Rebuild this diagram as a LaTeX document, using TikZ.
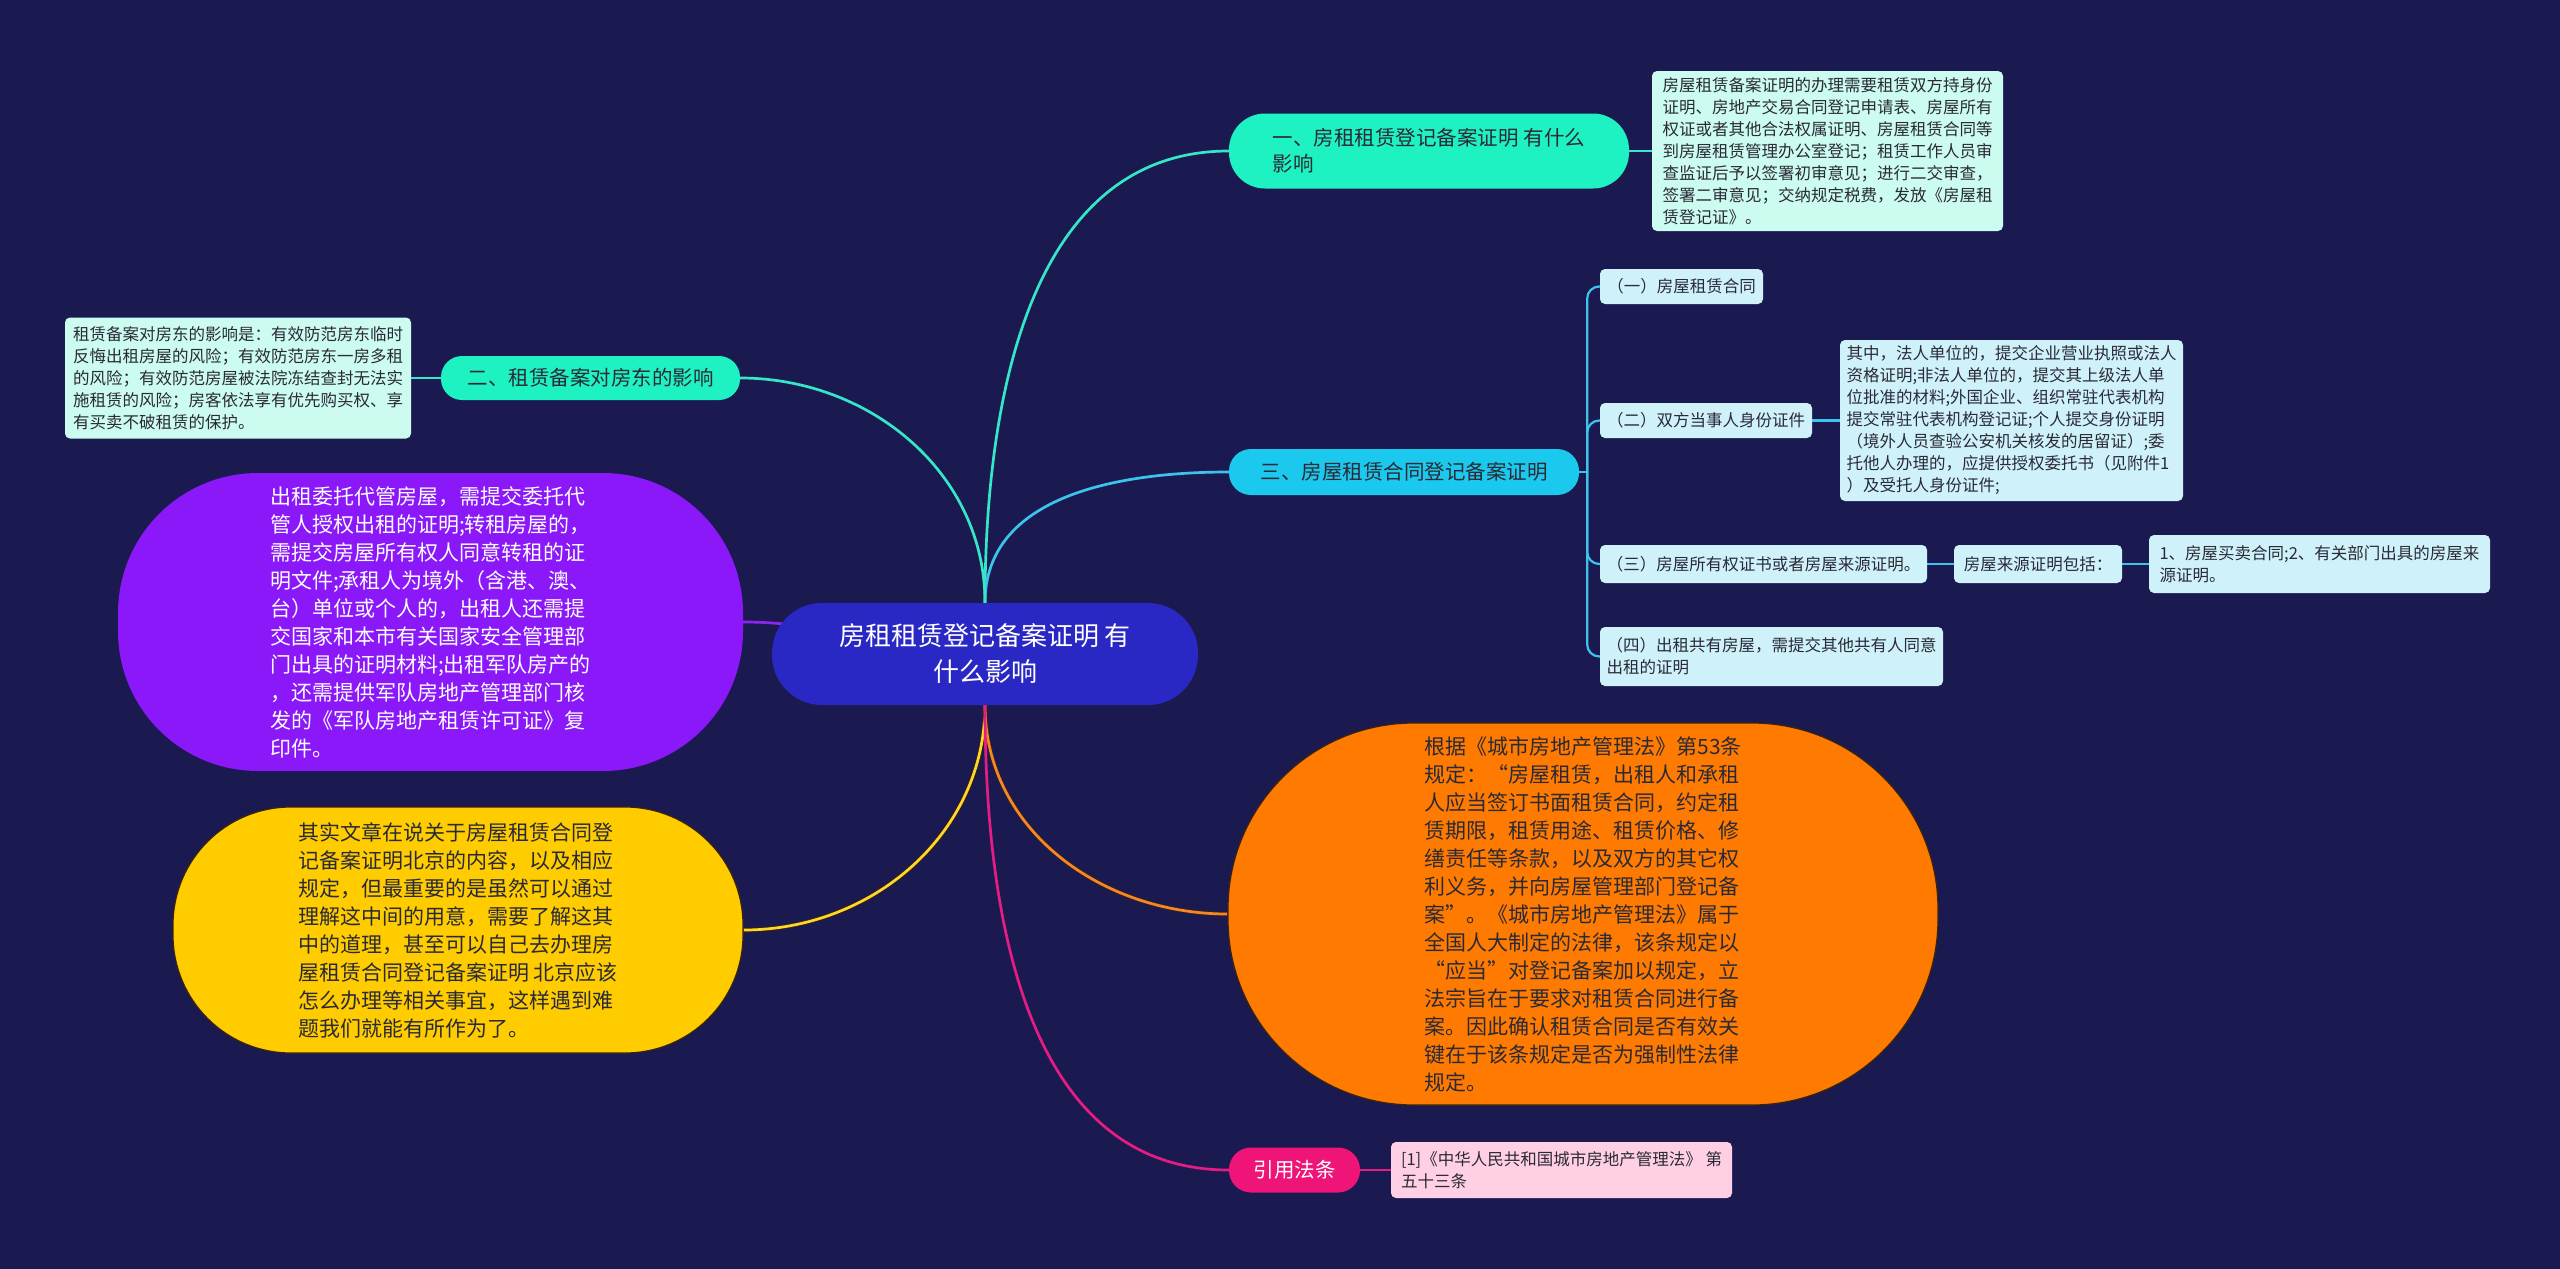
\documentclass[tikz,border=0pt]{standalone}
\usepackage{fontspec}
\setmainfont{Noto Sans CJK SC}
\definecolor{bgnavy}{HTML}{1B1A50}
\definecolor{rootblue}{HTML}{2A28C4}
\definecolor{mintnode}{HTML}{1EF2C2}
\definecolor{skynode}{HTML}{1CC9EE}
\definecolor{violetbub}{HTML}{8A18F8}
\definecolor{goldbub}{HTML}{FFCC00}
\definecolor{orangebub}{HTML}{FF7A00}
\definecolor{rosenode}{HTML}{EE1478}
\definecolor{mintpale}{HTML}{CCFBF0}
\definecolor{skypale}{HTML}{CFF2FA}
\definecolor{rosepale}{HTML}{FFD0E4}
\definecolor{inkdark}{HTML}{2A2A36}
\definecolor{edgedark}{HTML}{3A2410}
\definecolor{mintline}{HTML}{35E6C8}
\definecolor{skyline}{HTML}{3CC4EE}
\definecolor{violetline}{HTML}{9024EE}
\definecolor{goldline}{HTML}{FFD62A}
\definecolor{orangeline}{HTML}{F5862A}
\definecolor{roseline}{HTML}{E41C84}
\pgfdeclarelayer{bg}
\pgfdeclarelayer{edges}
\pgfsetlayers{bg,edges,main}
\begin{document}
\begin{tikzpicture}[x=1pt,y=-1pt,
    link/.style={line width=2.7pt, draw=#1},
    darklink/.style={line width=2.7pt, draw=#1,
      preaction={draw=edgedark, line width=4.2pt}},
    mainnode/.style={fill=#1, text=inkdark, align=left, inner sep=0pt,
      font=\fontsize{20.5}{26}\selectfont},
    bubble/.style={fill=#1, align=left, inner sep=0pt,
      font=\fontsize{21}{28}\selectfont},
    note/.style={fill=#1, text=inkdark, align=left, inner sep=0pt,
      rounded corners=5pt, font=\fontsize{16.5}{22}\selectfont}]
  \useasboundingbox (0,0) rectangle (2560,1269);
  \begin{pgfonlayer}{bg}
    \fill[bgnavy] (0,0) rectangle (2560,1269);
  \end{pgfonlayer}

  % centre
  \node[fill=rootblue, text=white, align=center, inner sep=0pt, rounded corners=50pt,
    minimum width=426pt, minimum height=102pt, font=\fontsize{26}{36}\selectfont]
    (root) at (985,654) {房租租赁登记备案证明 有\\什么影响};

  % right side
  \node[mainnode=mintnode, minimum width=400pt, minimum height=75pt, rounded corners=36pt]
    (one) at (1429,151) {一、房租租赁登记备案证明 有什么\\影响};
  \node[note=mintpale, minimum width=351pt, minimum height=160pt] (onetxt) at (1827.5,151)
    {房屋租赁备案证明的办理需要租赁双方持身份\\证明、房地产交易合同登记申请表、房屋所有\\权证或者其他合法权属证明、房屋租赁合同等\\到房屋租赁管理办公室登记；租赁工作人员审\\查监证后予以签署初审意见；进行二交审查，\\签署二审意见；交纳规定税费，发放《房屋租\\赁登记证》。};

  \node[mainnode=skynode, minimum width=350pt, minimum height=46pt, rounded corners=22pt]
    (san) at (1404,472) {三、房屋租赁合同登记备案证明};
  \node[note=skypale, minimum width=163pt, minimum height=35pt] (c1) at (1681.5,286.5)
    {（一）房屋租赁合同};
  \node[note=skypale, minimum width=212pt, minimum height=35pt] (c2) at (1706,420.5)
    {（二）双方当事人身份证件};
  \node[note=skypale, minimum width=343pt, minimum height=161pt] (c2txt) at (2011.5,420.5)
    {其中，法人单位的，提交企业营业执照或法人\\资格证明;非法人单位的，提交其上级法人单\\位批准的材料;外国企业、组织常驻代表机构\\提交常驻代表机构登记证;个人提交身份证明\\（境外人员查验公安机关核发的居留证）;委\\托他人办理的，应提供授权委托书（见附件1\\）及受托人身份证件;};
  \node[note=skypale, minimum width=327pt, minimum height=38pt] (c3) at (1763.5,564)
    {（三）房屋所有权证书或者房屋来源证明。};
  \node[note=skypale, minimum width=168pt, minimum height=38pt] (c3a) at (2038,564)
    {房屋来源证明包括：};
  \node[note=skypale, minimum width=341pt, minimum height=58pt] (c3b) at (2319.5,564)
    {1、房屋买卖合同;2、有关部门出具的房屋来\\源证明。};
  \node[note=skypale, minimum width=343pt, minimum height=59pt] (c4) at (1771.5,656.5)
    {（四）出租共有房屋，需提交其他共有人同意\\出租的证明};

  \node[bubble=orangebub, text=inkdark, draw=edgedark, line width=1.2pt,
    minimum width=710pt, minimum height=382pt, rounded corners=186pt]
    (ora) at (1583,914)
    {根据《城市房地产管理法》第53条\\规定：“房屋租赁，出租人和承租\\人应当签订书面租赁合同，约定租\\赁期限，租赁用途、租赁价格、修\\缮责任等条款，以及双方的其它权\\利义务，并向房屋管理部门登记备\\案”。《城市房地产管理法》属于\\全国人大制定的法律，该条规定以\\“应当”对登记备案加以规定，立\\法宗旨在于要求对租赁合同进行备\\案。因此确认租赁合同是否有效关\\键在于该条规定是否为强制性法律\\规定。};

  \node[mainnode=rosenode, text=white, minimum width=131pt, minimum height=45pt,
    rounded corners=22pt] (cite) at (1294.5,1170) {引用法条};
  \node[note=rosepale, minimum width=341pt, minimum height=56pt] (citetxt) at (1561.5,1170)
    {[1]《中华人民共和国城市房地产管理法》 第\\五十三条};

  % left side
  \node[mainnode=mintnode, minimum width=299pt, minimum height=44pt, rounded corners=21pt]
    (two) at (590.5,378) {二、租赁备案对房东的影响};
  \node[note=mintpale, minimum width=346pt, minimum height=121pt] (twotxt) at (238,378)
    {租赁备案对房东的影响是：有效防范房东临时\\反悔出租房屋的风险；有效防范房东一房多租\\的风险；有效防范房屋被法院冻结查封无法实\\施租赁的风险；房客依法享有优先购买权、享\\有买卖不破租赁的保护。};

  \node[bubble=violetbub, text=white, minimum width=625pt, minimum height=298pt,
    rounded corners=140pt] (purp) at (430.5,622)
    {出租委托代管房屋，需提交委托代\\管人授权出租的证明;转租房屋的，\\需提交房屋所有权人同意转租的证\\明文件;承租人为境外（含港、澳、\\台）单位或个人的，出租人还需提\\交国家和本市有关国家安全管理部\\门出具的证明材料;出租军队房产的\\，还需提供军队房地产管理部门核\\发的《军队房地产租赁许可证》复\\印件。};

  \node[bubble=goldbub, text=inkdark, draw=edgedark, line width=1.2pt,
    minimum width=570pt, minimum height=246pt, rounded corners=118pt]
    (yel) at (458,930)
    {其实文章在说关于房屋租赁合同登\\记备案证明北京的内容，以及相应\\规定，但最重要的是虽然可以通过\\理解这中间的用意，需要了解这其\\中的道理，甚至可以自己去办理房\\屋租赁合同登记备案证明 北京应该\\怎么办理等相关事宜，这样遇到难\\题我们就能有所作为了。};

  % connectors
  \begin{pgfonlayer}{edges}
    \draw[link=mintline] (root.north) to[out=90,in=180] (one.west);
    \draw[link=skyline] (root.north) to[out=90,in=180] (san.west);
    \draw[link=mintline] (root.north) to[out=90,in=0] (two.east);
    \draw[link=violetline] (root.center) to[out=180,in=0] (purp.east);
    \draw[darklink=goldline] (root.south) to[out=-90,in=0] (yel.east);
    \draw[darklink=orangeline] (root.south) to[out=-90,in=180] (ora.west);
    \draw[link=roseline] (root.south) to[out=-90,in=180] (cite.west);

    \draw[link=mintline] (one.east) -- (onetxt.west);
    \draw[link=mintline] (two.west) -- (twotxt.east);
    \draw[link=roseline] (cite.east) -- (citetxt.west);

    \coordinate (spine) at ([xshift=8pt]san.east);
    \draw[link=skyline] (san.east) -- (spine);
    \foreach \kid in {c1,c2,c3,c4}
      \draw[link=skyline, line width=2.2pt, rounded corners=12pt] (spine) |- (\kid.west);
    \draw[link=skyline] (c2.east) -- (c2txt.west);
    \draw[link=skyline] (c3.east) -- (c3a.west);
    \draw[link=skyline] (c3a.east) -- (c3b.west);
  \end{pgfonlayer}
\end{tikzpicture}
\end{document}
